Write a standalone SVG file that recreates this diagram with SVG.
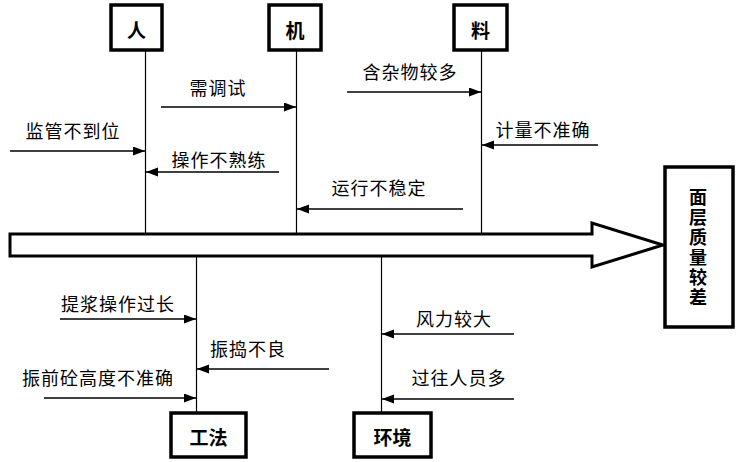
<svg xmlns="http://www.w3.org/2000/svg" width="741" height="462" viewBox="0 0 741 462">
<style>
.box{fill:#fff;stroke:#000;stroke-width:3.5}
.spine{fill:#fff;stroke:#000;stroke-width:3}
.vl{stroke:#000;stroke-width:1.2;fill:none}
.ar{stroke:#000;stroke-width:1.7;fill:none;marker-end:url(#ah)}
.t{font-family:"SimSun","Noto Sans CJK SC","Liberation Sans",sans-serif;font-size:18px;fill:#000;text-anchor:middle;dominant-baseline:central;letter-spacing:1px}
.b{font-family:"Noto Sans CJK SC","Liberation Sans",sans-serif;font-size:19px;font-weight:bold;fill:#000;text-anchor:middle;dominant-baseline:central}
.v{font-family:"Noto Sans CJK SC","Liberation Sans",sans-serif;font-size:18px;font-weight:bold;fill:#000;text-anchor:middle;writing-mode:vertical-rl;letter-spacing:2px}
</style>
<defs>
<marker id="ah" markerUnits="userSpaceOnUse" markerWidth="13" markerHeight="10" refX="12" refY="4.5" orient="auto">
<path d="M0,0 L12,4.5 L0,9 z" fill="#000"/>
</marker>
</defs>
<rect width="741" height="462" fill="#fff"/>
<g id="connectors">
<line class="vl" x1="145.5" y1="50" x2="145.5" y2="234"/>
<line class="vl" x1="296.5" y1="50" x2="296.5" y2="234"/>
<line class="vl" x1="481.5" y1="50" x2="481.5" y2="234"/>
<line class="vl" x1="196.5" y1="256" x2="196.5" y2="413"/>
<line class="vl" x1="381.5" y1="256" x2="381.5" y2="413"/>
<line class="ar" x1="161" y1="107" x2="296" y2="107"/>
<line class="ar" x1="10" y1="151" x2="145" y2="151"/>
<line class="ar" x1="279" y1="172" x2="146" y2="172"/>
<line class="ar" x1="463" y1="209" x2="297" y2="209"/>
<line class="ar" x1="347" y1="92" x2="481" y2="92"/>
<line class="ar" x1="598" y1="145" x2="482" y2="145"/>
<line class="ar" x1="60" y1="319" x2="196" y2="319"/>
<line class="ar" x1="329" y1="369" x2="197" y2="369"/>
<line class="ar" x1="44" y1="398" x2="196" y2="398"/>
<line class="ar" x1="514" y1="334" x2="382" y2="334"/>
<line class="ar" x1="514" y1="399" x2="382" y2="399"/>
</g>
<g id="spine">
<polygon class="spine" points="10,234 592,234 592,223 663,245 592,267 592,256 10,256"/>
</g>
<g id="ren"><rect class="box" x="111" y="5" width="51" height="45"/><text class="b" x="136.5" y="29">人</text></g>
<g id="ji"><rect class="box" x="269" y="5" width="52" height="45"/><text class="b" x="295" y="29">机</text></g>
<g id="liao"><rect class="box" x="454" y="5" width="53" height="45"/><text class="b" x="480.5" y="29">料</text></g>
<g id="gongfa"><rect class="box" x="171" y="413" width="75" height="44"/><text class="b" x="208.5" y="436">工法</text></g>
<g id="huanjing"><rect class="box" x="354" y="413" width="77" height="44"/><text class="b" x="392.5" y="436">环境</text></g>
<g id="result"><rect class="box" x="665" y="167" width="68" height="160"/>
<text class="v" x="698" y="248">面层质量较差</text>
</g>
<g id="labels">
<text class="t" x="218" y="87">需调试</text>
<text class="t" x="73" y="130">监管不到位</text>
<text class="t" x="219" y="159">操作不熟练</text>
<text class="t" x="379" y="187">运行不稳定</text>
<text class="t" x="410" y="71">含杂物较多</text>
<text class="t" x="543" y="129">计量不准确</text>
<text class="t" x="118" y="303">提浆操作过长</text>
<text class="t" x="248" y="348">振捣不良</text>
<text class="t" x="98" y="377">振前砼高度不准确</text>
<text class="t" x="454" y="318">风力较大</text>
<text class="t" x="459" y="377">过往人员多</text>
</g>
</svg>
